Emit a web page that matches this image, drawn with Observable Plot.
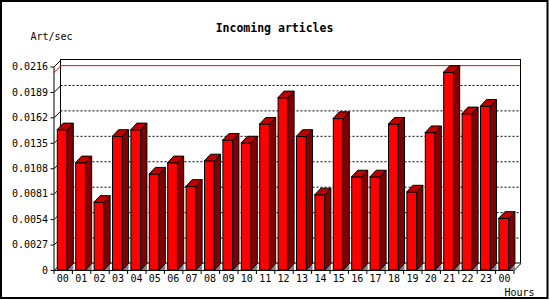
<!DOCTYPE html>
<html>
<head>
<meta charset="utf-8">
<script src="https://cdn.jsdelivr.net/npm/d3@7"></script>
<script src="https://cdn.jsdelivr.net/npm/@observablehq/plot@0.6"></script>
<style>
  html, body { margin: 0; padding: 0; background: #fff; }
  #chart { width: 550px; height: 300px; }
</style>
</head>
<body>
<div id="chart"></div>
<script>
// ---- data ----
const hours = ["00","01","02","03","04","05","06","07","08","09","10","11",
               "12","13","14","15","16","17","18","19","20","21","22","23","00"];
const articlesPerSec = [0.0149, 0.0114, 0.0072, 0.0142, 0.0149, 0.0102, 0.0114, 0.0089,
                        0.0116, 0.0138, 0.0135, 0.0155, 0.0183, 0.0142, 0.0080, 0.0161,
                        0.0099, 0.0099, 0.0155, 0.0083, 0.0146, 0.0210, 0.0166, 0.0174, 0.0055];
const yTicks = [0, 0.0027, 0.0054, 0.0081, 0.0108, 0.0135, 0.0162, 0.0189, 0.0216];
const yTickLabels = ["0", "0.0027", "0.0054", "0.0081", "0.0108", "0.0135", "0.0162", "0.0189", "0.0216"];
const title = "Incoming articles";
const yLabel = "Art/sec";
const xLabel = "Hours";

// ---- layout ----
const W = 550, H = 300;
const mL = 53.5, mR = 36.5, mT = 66.5, mB = 30;
const n = hours.length;
const yMax = yTicks[yTicks.length - 1];
const pxPerSlot = (W - mL - mR) / n;
const pxPerUnit = (H - mT - mB) / yMax;
// bar geometry (pixels -> data units)
const A = 3.8 / pxPerSlot, B = 13.8 / pxPerSlot;
const DX = 6 / pxPerSlot, DY = 6.5 / pxPerUnit;      // bar depth
const PDX = 7 / pxPerSlot, PDY = 7 / pxPerUnit;      // back plane offset

const bars = articlesPerSec.map((v, i) => ({i, v}));
const sides = bars.flatMap(({i, v}) => [
  {i, x: i + B, y1: 0, y2: v},
  {i, x: i + B + DX, y1: DY, y2: v + DY}
]);
const tops = bars.flatMap(({i, v}) => [
  {i, y: v, x1: i + A, x2: i + B},
  {i, y: v + DY, x1: i + A + DX, x2: i + B + DX}
]);
const shadows = bars.flatMap(({i}) => [
  {i, x: i + B, y1: 0, y2: 0},
  {i, x: i + B + DX, y1: 0, y2: DY}
]);
const maxV = d3.max(articlesPerSec);
const gridVals = yTicks.slice(1, -1);
const corners = [
  {x1: 0, y1: yMax, x2: PDX, y2: yMax + PDY},
  {x1: 0, y1: 0, x2: PDX, y2: PDY},
  {x1: n, y1: 0, x2: n + PDX, y2: PDY}
];

const chart = Plot.plot({
  width: W, height: H,
  marginLeft: mL, marginRight: mR, marginTop: mT, marginBottom: mB,
  style: {fontFamily: "DejaVu Sans Mono", fontSize: "10px", background: "#fff", color: "#000"},
  x: {type: "linear", domain: [0, n]},
  y: {type: "linear", domain: [0, yMax]},
  marks: [
    // back plane
    Plot.rect([0], {x1: PDX, x2: n + PDX, y1: PDY, y2: yMax + PDY, fill: "white", stroke: "black"}),
    // dashed grid on back plane
    Plot.ruleY(gridVals, {y: d => d + PDY, x1: PDX, x2: n + PDX, stroke: "black", strokeDasharray: "2,2"}),
    Plot.link(gridVals, {x1: 0, y1: d => d, x2: PDX, y2: d => d + PDY, stroke: "black"}),
    // max line
    Plot.ruleY([maxV], {y: d => d + PDY, x1: PDX, x2: n + PDX, stroke: "red"}),
    Plot.link([maxV], {x1: 0, y1: d => d, x2: PDX, y2: d => d + PDY, stroke: "red"}),
    // frame front edges
    Plot.link(corners, {x1: "x1", y1: "y1", x2: "x2", y2: "y2", stroke: "black"}),
    Plot.ruleX([0], {y1: 0, y2: yMax, stroke: "black"}),
    Plot.ruleY([0], {x1: 0, x2: n, stroke: "black"}),
    // floor shadows
    Plot.areaY(shadows, {x: "x", y1: "y1", y2: "y2", z: "i", fill: "#808080"}),
    // bars: front, side, top
    Plot.rect(bars, {x1: d => d.i + A, x2: d => d.i + B, y1: 0, y2: "v", fill: "#ff0000", stroke: "black"}),
    Plot.areaY(sides, {x: "x", y1: "y1", y2: "y2", z: "i", fill: "#800000", stroke: "black"}),
    Plot.areaX(tops, {y: "y", x1: "x1", x2: "x2", z: "i", fill: "#c00000", stroke: "black"}),
    // axes
    Plot.axisY(yTicks, {tickSize: 3, tickPadding: 3, label: null, fontSize: 10,
      tickFormat: d => yTickLabels[yTicks.indexOf(d)]}),
    Plot.axisX(d3.range(n + 1), {tickSize: 4, tickFormat: () => "", label: null}),
    Plot.axisX(d3.range(n).map(i => i + (A + B) / 2), {tickSize: 0, tickPadding: 4, label: null, fontSize: 10,
      tickFormat: d => hours[Math.floor(d)]}),
    // texts
    Plot.text([title], {text: d => d, frameAnchor: "top", dx: -9.5, dy: -39, lineAnchor: "middle",
      fontWeight: "bold", fontSize: 11.5}),
    Plot.text([yLabel], {text: d => d, frameAnchor: "top-left", dx: -23.5, dy: -30, textAnchor: "start",
      lineAnchor: "middle", fontSize: 10}),
    Plot.text([xLabel], {text: d => d, frameAnchor: "bottom-right", dx: -9.5, dy: 22, textAnchor: "start",
      lineAnchor: "middle", fontSize: 10})
  ]
});

d3.select(chart).append("rect")
  .attr("x", 1).attr("y", 1).attr("width", 546.5).attr("height", 297)
  .attr("fill", "none").attr("stroke", "black").attr("stroke-width", 2);

document.getElementById("chart").appendChild(chart);
</script>
</body>
</html>
